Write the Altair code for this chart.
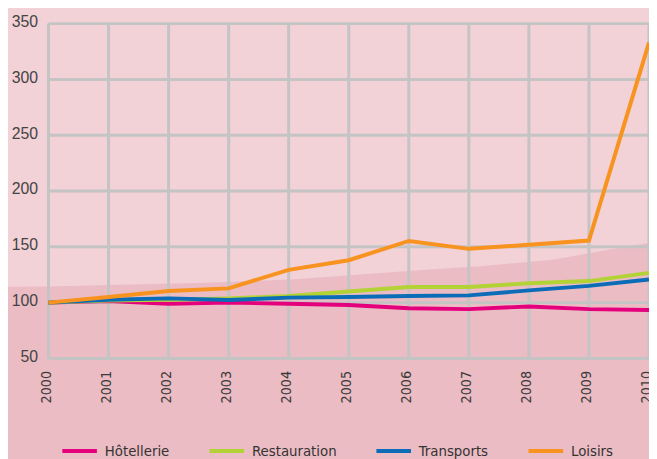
import altair as alt
import pandas as pd

years = [2000, 2001, 2002, 2003, 2004, 2005, 2006, 2007, 2008, 2009, 2010]
hotellerie = [100, 101.5, 99, 100, 99, 97.8, 95, 94.2, 96.6, 94.2, 93.4]
restauration = [100, 102, 102.5, 103.7, 106, 110, 114, 114, 117.3, 119.3, 126.7]
transports = [100, 102.5, 103.8, 102.3, 104.5, 105, 106, 106.5, 111, 115, 120.8]
loisirs = [100, 105, 110.4, 112.8, 129.4, 138, 155.3, 148.2, 151.8, 155.6, 333]

series_names = ["Hôtellerie", "Restauration", "Transports", "Loisirs"]
series_colors = ["#e4007c", "#b2d235", "#0b6db8", "#f7931e"]

y_ticks = [50, 100, 150, 200, 250, 300, 350]

# decorative background band boundary
bg_x = [1998, 2000, 2002.8, 2004.1, 2006.4, 2007.2, 2008.4, 2009.4, 2010, 2011]
bg_y = [114, 114.5, 118, 121, 130, 132.6, 138.5, 148, 153.5, 160]

rows = []
for name, vals in zip(series_names, [hotellerie, restauration, transports, loisirs]):
    for yr, v in zip(years, vals):
        rows.append({"year": yr, "value": v, "series": name})
df = pd.DataFrame(rows)

bg_df = pd.DataFrame({"year": bg_x, "v": bg_y})
vgrid_df = pd.DataFrame({"year": years})
hgrid_df = pd.DataFrame({"v": y_ticks})

NARROW = "Liberation Sans Narrow, DejaVu Sans Condensed, sans-serif"
REG = "Liberation Sans, Arial, sans-serif"

xscale = alt.Scale(domain=[2000, 2010], nice=False, zero=False)
yscale = alt.Scale(domain=[50, 350], nice=False, zero=False)

xaxis = alt.Axis(values=years, format="d", labelAngle=-90, grid=False,
                 ticks=False, domain=False, labelPadding=12,
                 labelFont=NARROW, labelFontSize=14.5, labelColor="#3a3a3a",
                 title=None, labelOffset=-2, zindex=1)
yaxis = alt.Axis(values=y_ticks, grid=False, ticks=False, domain=False,
                 labelPadding=11, labelFont=REG, labelFontSize=16,
                 labelColor="#444444", title=None, labelOffset=-2, zindex=1)

GRID = "#c4c4c4"

bg = alt.Chart(bg_df).mark_area(color="#f2d1d7", opacity=1).encode(
    x=alt.X("year:Q", scale=xscale, axis=xaxis, title=None),
    y=alt.Y("v:Q", scale=yscale, axis=yaxis, title=None),
    y2=alt.datum(460),
)

vgrid = alt.Chart(vgrid_df).mark_rule(color=GRID, strokeWidth=3).encode(
    x=alt.X("year:Q", scale=xscale, axis=xaxis, title=None),
    y=alt.datum(50),
    y2=alt.datum(350),
)

hgrid = alt.Chart(hgrid_df).mark_rule(color=GRID, strokeWidth=3).encode(
    y=alt.Y("v:Q", scale=yscale, axis=yaxis, title=None),
    x=alt.datum(2000),
    x2=alt.datum(2010),
)

lines = alt.Chart(df).mark_line(strokeWidth=4, strokeJoin="miter").encode(
    x=alt.X("year:Q", scale=xscale, axis=xaxis, title=None),
    y=alt.Y("value:Q", scale=yscale, axis=yaxis, title=None),
    color=alt.Color("series:N",
                    scale=alt.Scale(domain=series_names, range=series_colors),
                    sort=series_names,
                    legend=alt.Legend(orient="none", legendX=12, legendY=413,
                                      direction="horizontal", title=None,
                                      symbolType="stroke", symbolSize=1225,
                                      symbolStrokeWidth=4, labelFont=NARROW,
                                      labelFontSize=15, labelColor="#333333",
                                      labelOffset=6, columnPadding=32)),
    order=alt.Order("year:Q"),
)

chart = alt.layer(bg, vgrid, hgrid, lines).properties(
    width=608, height=339,
    autosize=alt.AutoSizeParams(type="none"),
    padding={"left": 41, "top": 13, "right": 0, "bottom": 99},
    background="#ebbcc3",
).configure_view(stroke=None)

chart.save("out.html", embed_options={"renderer": "svg", "actions": False})
